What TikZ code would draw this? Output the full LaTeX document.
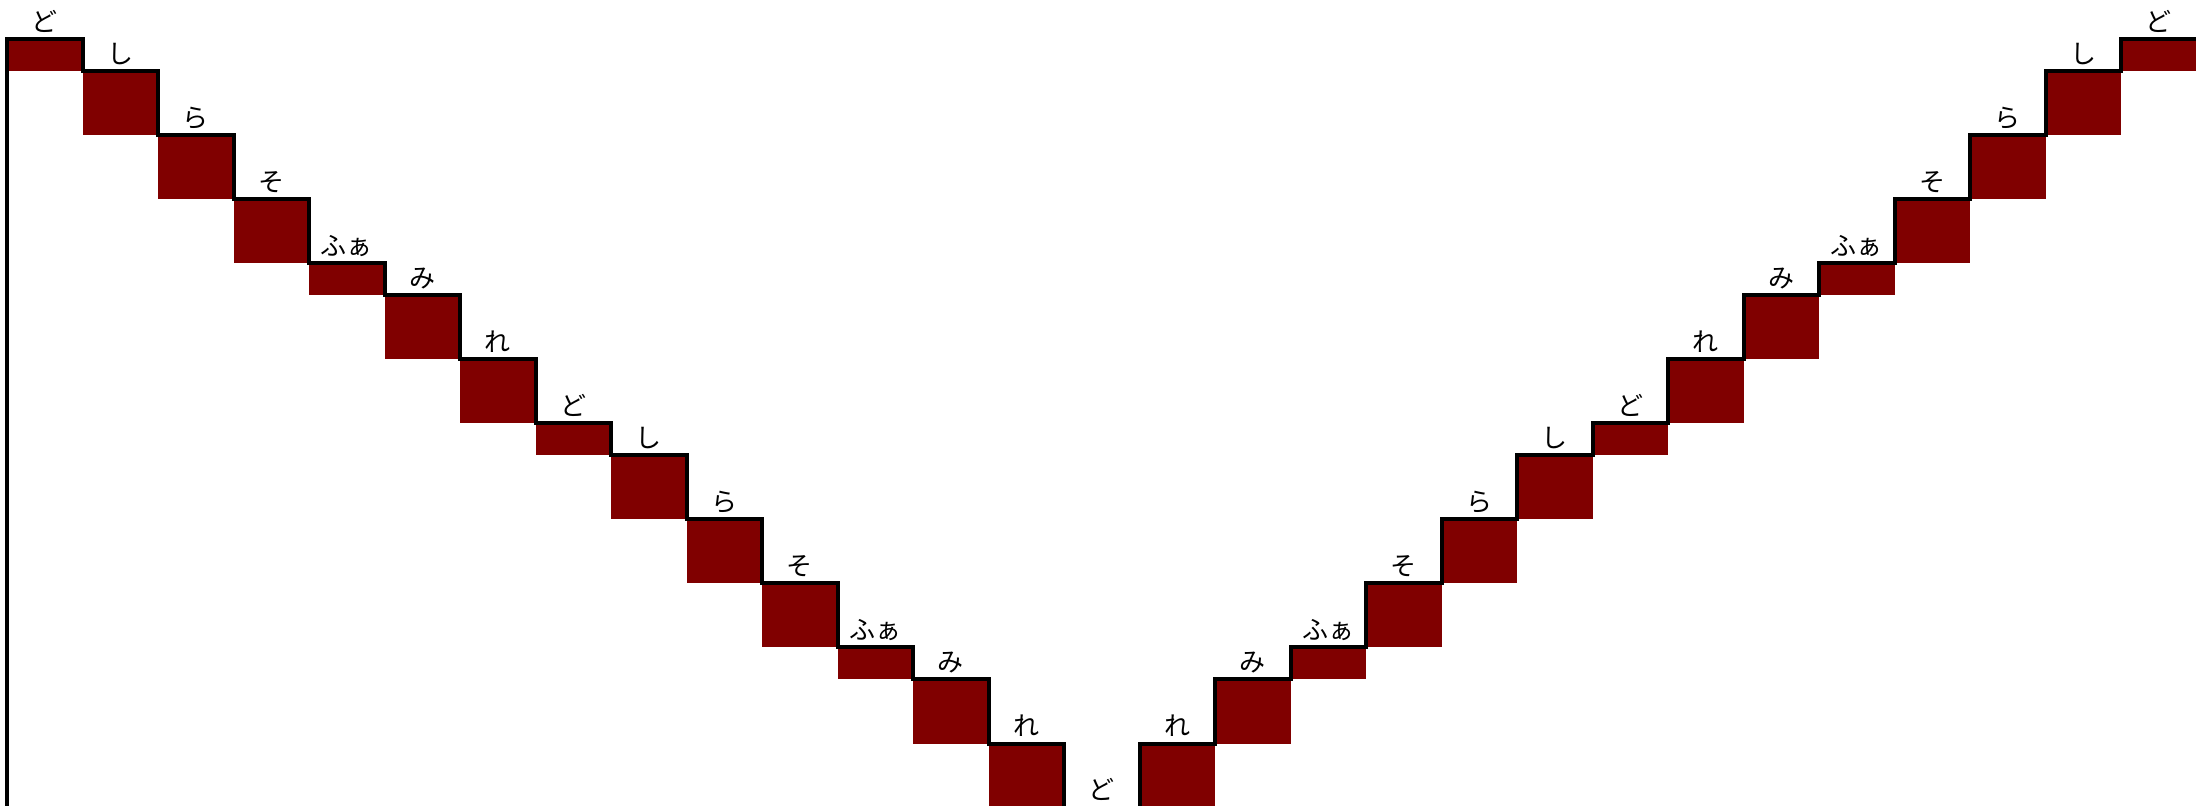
\documentclass[tikz,border=0pt]{standalone}
\usepackage{fontspec}
\setmainfont{Noto Sans CJK JP}
\definecolor{stepred}{RGB}{128,0,0}
\usepackage{tikz}
\usetikzlibrary{positioning}

\tikzset{
  stepblock/.style={fill=stepred, draw=none},
  stairline/.style={draw=black, line width=2pt, line join=miter},
  notelabel/.style={anchor=base, inner sep=0pt, font=\fontsize{13}{15}\selectfont}
}

\begin{document}
\begin{tikzpicture}[x=0.5pt, y=-0.5pt]
  \useasboundingbox (0,0) rectangle (2196,806);
  \clip (0,0) rectangle (2196,806);
  % note / top level / bottom level of block (in semitones)
  \def\scalesteps{ど/0/1, し/1/3, ら/3/5, そ/5/7, ふぁ/7/8, み/8/10, れ/10/12,
    ど/12/13, し/13/15, ら/15/17, そ/17/19, ふぁ/19/20, み/20/22, れ/22/24, ど/24/24,
    れ/22/24, み/20/22, ふぁ/19/20, そ/17/19, ら/15/17, し/13/15, ど/12/13,
    れ/10/12, み/8/10, ふぁ/7/8, そ/5/7, ら/3/5, し/1/3, ど/0/1}
  % blocks
  \foreach \n/\t/\b [count=\i from 0] in \scalesteps {
    \fill[stepblock] ({7+\i*75.5},{39.5+\t*32}) rectangle ({7+(\i+1)*75.5},{39.5+\b*32});
  }
  % outline of the stairs
  \draw[stairline] (7,820)
    \foreach \n/\t/\b [count=\i from 0] in \scalesteps {
      -- ({7+\i*75.5},{39.5+\t*32}) -- ({7+(\i+1)*75.5},{39.5+\t*32})
    };
  % labels
  \foreach \n/\t/\b [count=\i from 0] in \scalesteps {
    \node[notelabel] (note\i) at ({7+(\i+0.5)*75.5},{39.5+\t*32-8}) {\n};
  }
\end{tikzpicture}
\end{document}
